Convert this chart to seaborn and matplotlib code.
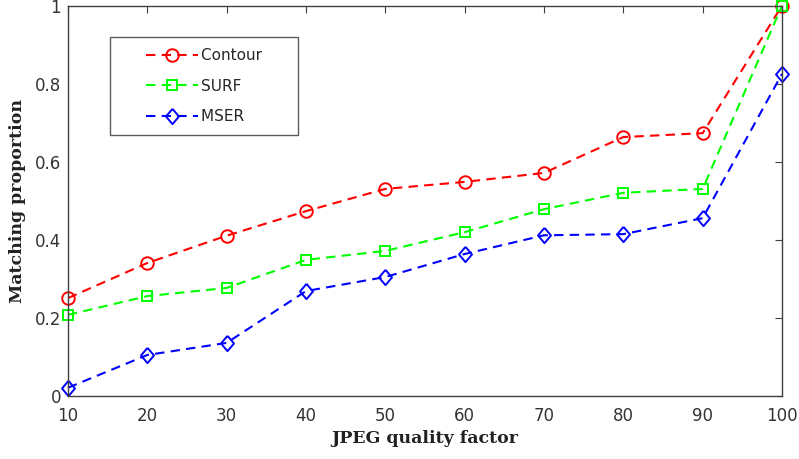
import numpy as np
import pandas as pd
import matplotlib
matplotlib.use('Agg')
import matplotlib.pyplot as plt
import seaborn as sns
from matplotlib.legend_handler import HandlerLine2D

quality = [10, 20, 30, 40, 50, 60, 70, 80, 90, 100]
contour = [0.25, 0.34, 0.41, 0.473, 0.53, 0.548, 0.571, 0.663, 0.673, 1.0]
surf = [0.207, 0.255, 0.276, 0.348, 0.371, 0.419, 0.478, 0.52, 0.53, 1.0]
mser = [0.02, 0.104, 0.135, 0.268, 0.304, 0.363, 0.411, 0.414, 0.455, 0.825]
methods = ['Contour', 'SURF', 'MSER']

df = pd.DataFrame({
    'quality': quality * 3,
    'value': contour + surf + mser,
    'method': [m for m in methods for _ in quality],
})

sns.set_style('white')
plt.rcParams['font.family'] = ['DejaVu Sans']

fig = plt.figure(figsize=(7.99, 4.59), dpi=100)
ax = fig.add_axes([0.0851, 0.1383, 0.8936, 0.8493])

palette = {'Contour': '#ff0000', 'SURF': '#00ff00', 'MSER': '#0000ff'}
diamond = [(0, 1), (0.85, 0), (0, -1), (-0.85, 0), (0, 1)]
markers = {'Contour': 'o', 'SURF': 's', 'MSER': diamond}
dashes = {m: (4.5, 3) for m in methods}
sns.lineplot(data=df, x='quality', y='value', hue='method', style='method',
             palette=palette, markers=markers, dashes=dashes, ax=ax,
             linewidth=1.5, markeredgewidth=1.4, legend=False, clip_on=False)
sizes = {'Contour': 9, 'SURF': 7.5, 'MSER': 11}
for line, m in zip(ax.lines, methods):
    line.set_markerfacecolor('none')
    line.set_markeredgecolor(line.get_color())
    line.set_markersize(sizes[m])

ax.set_xlim(10, 100)
ax.set_ylim(0, 1)
ax.set_xticks(quality)
ax.set_yticks([0, 0.2, 0.4, 0.6, 0.8, 1])
ax.set_yticklabels(['0', '0.2', '0.4', '0.6', '0.8', '1'])
ax.tick_params(direction='in', top=True, right=True, length=5, width=0.8,
               colors='#404040', labelsize=12, labelcolor='#333333')
ax.tick_params(axis='x', pad=8)
ax.tick_params(axis='y', pad=5)
for s in ax.spines.values():
    s.set_color('#404040')
    s.set_linewidth(1)

ax.set_xlabel('JPEG quality factor', fontsize=12.5, fontweight='bold',
              family='DejaVu Serif', color='#222222', labelpad=4)
ax.set_ylabel('Matching proportion', fontsize=12.5, fontweight='bold',
              family='DejaVu Serif', color='#222222', labelpad=6)

handles = ax.lines[:3]
hmap = {h: HandlerLine2D(xpad=1.6) for h in handles}
leg = ax.legend(handles, [m + '     ' for m in methods], loc='upper left',
                bbox_to_anchor=(0.0588, 0.92), handler_map=hmap,
                fancybox=False, frameon=True, fontsize=11, handlelength=5.0,
                labelspacing=1.0, borderpad=0.75, handletextpad=0.2,
                borderaxespad=0)
leg.get_frame().set_edgecolor('#333333')
leg.get_frame().set_linewidth(1)

fig.savefig('out.png', dpi=100)
